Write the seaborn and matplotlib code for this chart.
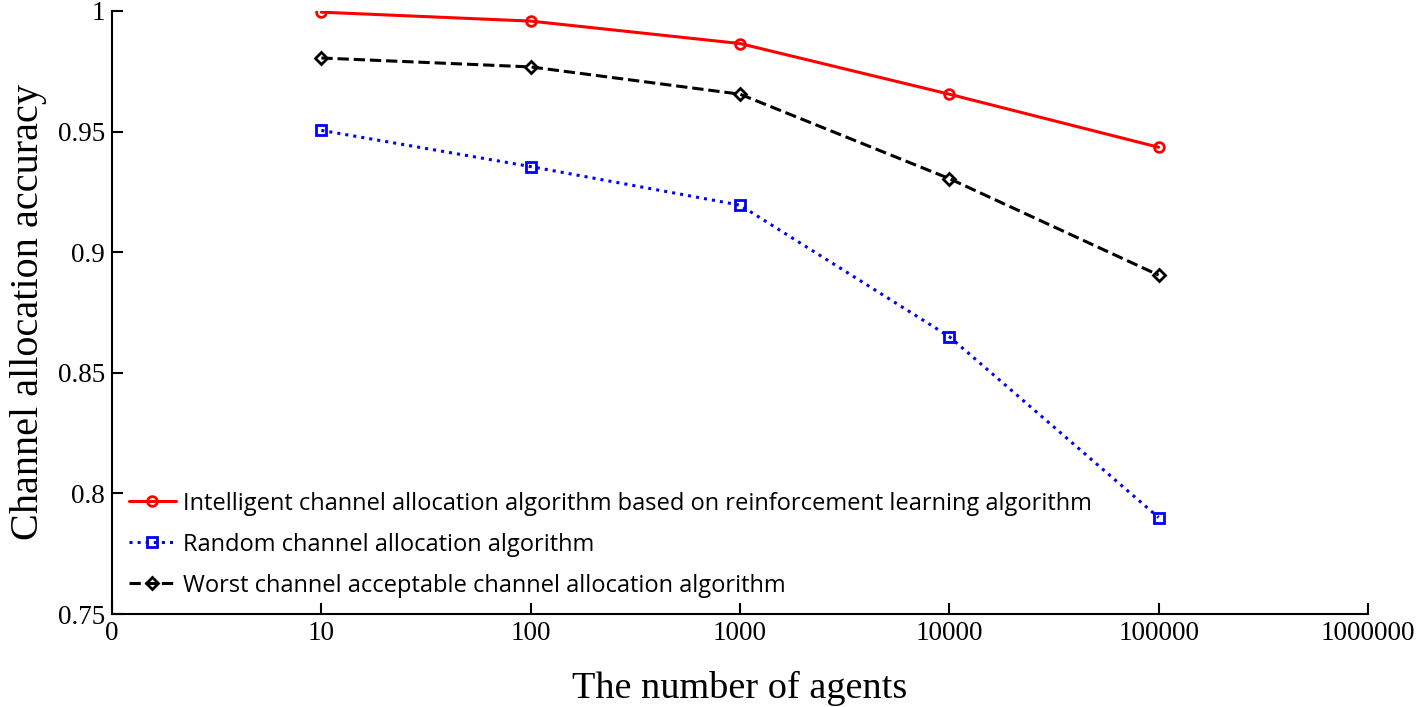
import matplotlib
matplotlib.use("Agg")
import matplotlib.pyplot as plt
import seaborn as sns
import pandas as pd

agents = [10, 100, 1000, 10000, 100000]
intelligent = [0.9995, 0.9958, 0.9865, 0.9655, 0.9435]
random_alloc = [0.9505, 0.9355, 0.9195, 0.8650, 0.7900]
worst_accept = [0.9805, 0.9768, 0.9655, 0.9305, 0.8905]
series_names = [
    "Intelligent channel allocation algorithm based on reinforcement learning algorithm",
    "Random channel allocation algorithm",
    "Worst channel acceptable channel allocation algorithm",
]
xtick_values = [1, 10, 100, 1000, 10000, 100000, 1000000]
xtick_labels = ["0", "10", "100", "1000", "10000", "100000", "1000000"]
ytick_values = [0.75, 0.8, 0.85, 0.9, 0.95, 1.0]
ytick_labels = ["0.75", "0.8", "0.85", "0.9", "0.95", "1"]

sns.set_style("white")
plt.rcParams["font.family"] = ["Liberation Serif", "DejaVu Serif"]
plt.rcParams["text.color"] = "black"
plt.rcParams["axes.labelcolor"] = "black"
plt.rcParams["xtick.color"] = "black"
plt.rcParams["ytick.color"] = "black"

fig = plt.figure(figsize=(14.18, 7.07), dpi=100)
ax = fig.add_axes([0.079, 0.1315, 0.8857, 0.853])

styles = [
    dict(color="#ff0000", linestyle="-", marker="o", markersize=7, linewidth=2.2),
    dict(color="#0000ff", linestyle=":", marker="s", markersize=7, linewidth=2.2),
    dict(color="#000000", linestyle="--", marker="D", markersize=6, linewidth=2.2),
]
for vals, name, st in zip([intelligent, random_alloc, worst_accept], series_names, styles):
    df = pd.DataFrame({"agents": agents, "acc": vals})
    sns.lineplot(data=df, x="agents", y="acc", ax=ax, label=name,
                 markerfacecolor="none", markeredgecolor=st["color"],
                 markeredgewidth=2.0, **st)

ax.set_xscale("log")
ax.set_xlim(1, 1000000)
ax.set_ylim(0.75, 1.0)
ax.set_xticks(xtick_values)
ax.set_xticklabels(xtick_labels)
ax.minorticks_off()
ax.set_yticks(ytick_values)
ax.set_yticklabels(ytick_labels)
ax.tick_params(axis="both", direction="in", length=8, width=1.5, labelsize=19.5,
               bottom=True, left=True, pad=5, colors="black")
for s in ["top", "right"]:
    ax.spines[s].set_visible(False)
for s in ["left", "bottom"]:
    ax.spines[s].set_linewidth(1.5)
    ax.spines[s].set_color("black")

ax.set_xlabel("The number of agents", fontsize=27.5, labelpad=18, color="black")
ax.set_ylabel("Channel allocation accuracy", fontsize=29, labelpad=8, color="black")

leg = ax.legend(loc="lower left", frameon=False,
                prop={"family": "Open Sans", "size": 17},
                handlelength=2.0, borderaxespad=0.3, labelspacing=0.72,
                handletextpad=0.3, bbox_to_anchor=(0.0, 0.0))
for t in leg.get_texts():
    t.set_color("black")

fig.savefig("out.png", dpi=100)
